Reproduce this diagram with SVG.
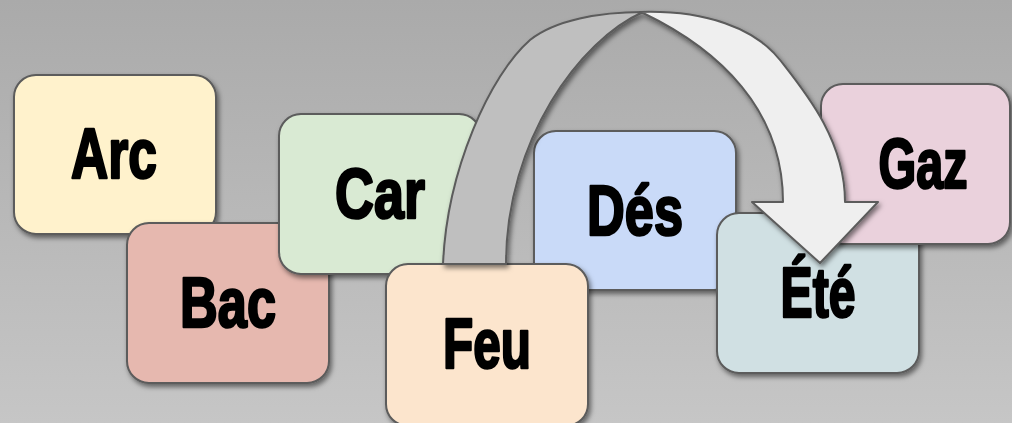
<svg xmlns="http://www.w3.org/2000/svg" width="1012" height="423" viewBox="0 0 1012 423">
  <defs>
    <linearGradient id="bg" x1="0" y1="0" x2="0" y2="1">
      <stop offset="0" stop-color="#aaaaaa"/>
      <stop offset="1" stop-color="#c6c6c6"/>
    </linearGradient>
    <filter id="shadow" x="-10%" y="-10%" width="125%" height="130%">
      <feDropShadow dx="2" dy="3" stdDeviation="2.5" flood-color="#000" flood-opacity="0.5"/>
    </filter>
  </defs>
  <style>
    .box { stroke: #5b5b5b; stroke-width: 2; filter: url(#shadow); }
    .label { font-family: "Liberation Sans", Arial, sans-serif; font-weight: bold; font-size: 70px; fill: #000; stroke: #000; stroke-width: 2.6; stroke-linejoin: round; text-anchor: middle; }
    .band { stroke: #5b5b5b; stroke-width: 2; stroke-linejoin: round; }
  </style>

  <rect x="0" y="0" width="1012" height="423" fill="url(#bg)"/>

  <g id="node-arc">
    <rect class="box" x="14" y="75" width="202" height="159" rx="22" fill="#fff2cc"/>
    <text class="label" x="114" y="178" textLength="86" lengthAdjust="spacingAndGlyphs">Arc</text>
  </g>
  <g id="node-bac">
    <rect class="box" x="127" y="223" width="202" height="160" rx="22" fill="#e6b8af"/>
    <text class="label" x="228" y="327" textLength="96" lengthAdjust="spacingAndGlyphs">Bac</text>
  </g>
  <g id="node-car">
    <rect class="box" x="279" y="114" width="202" height="160" rx="22" fill="#d9ead3"/>
    <text class="label" x="380" y="218" textLength="90" lengthAdjust="spacingAndGlyphs">Car</text>
  </g>
  <g id="node-des">
    <rect class="box" x="534" y="131" width="202" height="159" rx="22" fill="#c9daf8"/>
    <text class="label" x="635" y="235" textLength="96" lengthAdjust="spacingAndGlyphs">Dés</text>
  </g>
  <g id="node-feu">
    <rect class="box" x="386" y="264" width="202" height="162" rx="22" fill="#fce5cd"/>
    <text class="label" x="487" y="368" textLength="88" lengthAdjust="spacingAndGlyphs">Feu</text>
  </g>
  <g id="node-ete">
    <rect class="box" x="717" y="213" width="202" height="160" rx="22" fill="#d0e0e3"/>
    <text class="label" x="818" y="317" textLength="75" lengthAdjust="spacingAndGlyphs">Été</text>
  </g>
  <g id="node-gaz">
    <rect class="box" x="821" y="84" width="189" height="160" rx="22" fill="#ead1dc"/>
    <text class="label" x="923" y="188" textLength="89" lengthAdjust="spacingAndGlyphs">Gaz</text>
  </g>

  <g id="connectors" filter="url(#shadow)">
    <!-- back face of the curved band, rising from Feu -->
    <path class="band" fill="#bfbfbf" d="M443,264 C447,170 490,75 530,40 C555,20 600,12 643,12 C580,40 506,140 506,264 Z"/>
    <!-- front face of the band with arrowhead pointing down at Été -->
    <path class="band" fill="#efefef" d="M643,13 C720,50 783,110 783,202 L752,202 L820,263 L878,202 L845,202 C845,140 805,92 780,60 C755,28 705,10 640,12 Z"/>
  </g>
</svg>
